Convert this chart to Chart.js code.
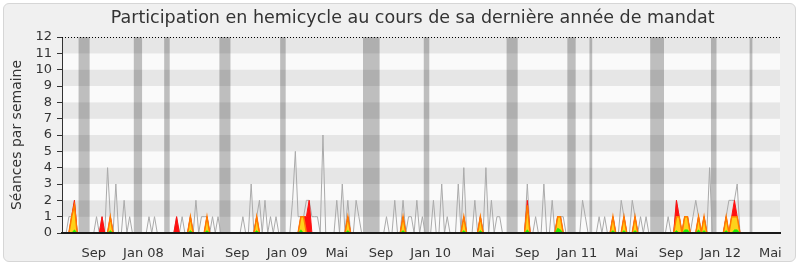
<!DOCTYPE html>
<html lang="fr">
<head>
<meta charset="utf-8">
<title>Participation en hemicycle</title>
<script src="https://cdn.jsdelivr.net/npm/chart.js@4.4.1/dist/chart.umd.min.js"></script>
<style>
  html, body { margin: 0; padding: 0; background: #fff; }
  #cadre {
    position: absolute; left: 3px; top: 3px; width: 791px; height: 257px;
    background: #f0f0f0; border: 1px solid #d6d6d6; border-radius: 6px;
  }
  #chart { position: absolute; left: 0; top: 0; }
</style>
</head>
<body>
<div id="cadre"></div>
<canvas id="chart" width="800" height="267"></canvas>
<script>
  // Semaines de juin 2007 à juin 2012, une colonne par semaine
  const NB_SEMAINES = 260;

  // [semaine, valeur] : valeurs non nulles
  const seances = [
    [2, 1], [3, 1], [4, 2],
    [12, 1], [14, 1], [16, 4], [17, 1], [19, 3], [22, 2], [24, 1],
    [31, 1], [33, 1],
    [41, 1], [43, 1], [46, 1], [48, 2], [50, 1], [51, 1], [52, 1], [54, 1], [56, 1],
    [65, 1], [68, 3], [70, 1], [71, 2], [73, 2], [75, 1], [77, 1],
    [83, 2], [84, 5], [85, 1], [86, 1], [87, 1], [88, 2], [89, 2], [90, 1], [91, 1], [92, 1], [94, 6],
    [99, 2], [101, 3], [103, 2], [106, 2], [107, 1],
    [117, 1], [120, 2], [123, 2], [125, 1], [126, 1], [128, 2], [130, 1],
    [134, 2], [137, 3], [139, 1], [143, 3], [145, 4], [149, 2], [151, 1], [153, 4], [155, 2], [157, 1], [158, 1],
    [168, 3], [171, 1], [174, 3], [177, 2], [179, 1], [180, 1], [181, 1],
    [188, 2], [189, 1],
    [194, 1], [196, 1], [199, 1], [202, 2], [203, 1], [206, 2], [207, 1], [209, 1], [211, 1],
    [219, 1], [222, 2], [223, 1], [225, 1], [226, 1], [228, 1], [229, 2], [230, 1], [232, 1], [234, 4],
    [240, 1], [241, 2], [242, 2], [243, 2], [244, 3],
  ];

  const presences = [
    [3, 1], [4, 2], [14, 1], [17, 1], [41, 1], [46, 1], [52, 1], [70, 1],
    [86, 1], [87, 1], [88, 1], [89, 2], [103, 1], [123, 1], [145, 1], [151, 1],
    [168, 2], [179, 1], [180, 1], [199, 1], [203, 1], [207, 1],
    [222, 2], [223, 1], [225, 1], [226, 1], [230, 1], [232, 1],
    [240, 1], [242, 1], [243, 2], [244, 1],
  ];

  const interventions = [
    [3, 1], [4, 1.7], [17, 1], [46, 1], [52, 1], [70, 1], [86, 1], [87, 1],
    [103, 1], [123, 1], [145, 1], [151, 1], [168, 1.7], [179, 1], [180, 1],
    [199, 1], [203, 1], [207, 1], [222, 1], [223, 1], [225, 1], [226, 1],
    [230, 1], [232, 1], [240, 1], [242, 1], [243, 1], [244, 1],
  ];

  const questions = [
    [4, 0.2], [17, 0.15], [46, 0.15], [52, 0.15], [70, 0.15], [86, 0.2],
    [103, 0.15], [123, 0.15], [145, 0.15], [151, 0.15], [168, 0.2], [179, 0.3],
    [180, 0.2], [199, 0.15], [203, 0.15], [207, 0.15], [222, 0.15], [225, 0.2],
    [226, 0.2], [230, 0.2], [232, 0.15], [240, 0.15], [243, 0.2], [244, 0.2],
  ];

  // semaines sans séance (vacances parlementaires), [début, fin]
  const vacances = [
    [6, 9], [26, 28], [37, 38], [57, 60], [79, 80], [109, 114], [131, 132],
    [161, 164], [183, 185], [191, 191], [213, 217], [235, 236], [249, 249],
  ];

  const tickWeeks = [11, 29, 47, 63, 81, 99, 115, 133, 152, 168, 186, 204, 220, 238, 256];
  const tickLabels = ["Sep", "Jan 08", "Mai", "Sep", "Jan 09", "Mai", "Sep", "Jan 10",
    "Mai", "Sep", "Jan 11", "Mai", "Sep", "Jan 12", "Mai"];

  const Y_MAX = 12;

  function weekly(pairs) {
    const vals = new Map(pairs);
    const out = [];
    for (let k = 0; k < NB_SEMAINES; k++) out.push({ x: k, y: vals.get(k) || 0 });
    return out;
  }

  const vacPairs = [];
  vacances.forEach(([a, b]) => {
    for (let k = a; k <= b; k++) vacPairs.push([k, Y_MAX]);
  });

  function area(label, pairs, fillColor, lineColor, width, order) {
    return {
      label,
      data: weekly(pairs),
      backgroundColor: fillColor,
      borderColor: lineColor,
      borderWidth: width,
      fill: "origin",
      pointRadius: 0,
      tension: 0,
      order,
    };
  }

  /** Alternating horizontal bands behind the plot + dotted top line */
  const bandes = {
    id: "bandes",
    beforeDraw(chart) {
      const { ctx, chartArea: a, scales: { y } } = chart;
      ctx.save();
      for (let v = 0; v < Y_MAX; v++) {
        const top = y.getPixelForValue(v + 1);
        const bot = y.getPixelForValue(v);
        ctx.fillStyle = v % 2 ? "#e6e6e6" : "#fafafa";
        ctx.fillRect(a.left, top, a.right - a.left, bot - top);
      }
      ctx.restore();
    },
    afterDatasetsDraw(chart) {
      const { ctx, chartArea: a, scales: { y } } = chart;
      const yy = Math.round(y.getPixelForValue(Y_MAX)) + 0.5;
      ctx.save();
      ctx.strokeStyle = "#000";
      ctx.lineWidth = 1;
      ctx.setLineDash([1, 2]);
      ctx.beginPath();
      ctx.moveTo(a.left, yy);
      ctx.lineTo(a.right, yy);
      ctx.stroke();
      ctx.restore();
    },
  };

  Chart.defaults.font.family = "'DejaVu Sans', sans-serif";

  new Chart(document.getElementById("chart"), {
    type: "line",
    data: {
      datasets: [
        area("Questions", questions, "#22ee00", "#22ee00", 0.5, 1),
        area("Interventions", interventions, "#ffd21a", "#ff7a00", 1.5, 2),
        area("Présences", presences, "#ff1010", "#ff1010", 1, 3),
        {
          label: "Séances",
          data: weekly(seances),
          borderColor: "#aaaaaa",
          borderWidth: 1,
          fill: false,
          pointRadius: 0,
          tension: 0,
          order: 4,
        },
        {
          label: "Vacances",
          data: weekly(vacPairs),
          backgroundColor: "rgba(0,0,0,0.24)",
          borderWidth: 0,
          fill: "origin",
          stepped: "middle",
          pointRadius: 0,
          order: 5,
        },
      ],
    },
    options: {
      responsive: false,
      animation: false,
      layout: { padding: { left: 0, right: 20, top: 0, bottom: 0 } },
      plugins: {
        legend: { display: false },
        tooltip: { enabled: false },
        title: {
          display: true,
          // trailing spaces nudge the centred title slightly left, as in the original
          text: "Participation en hemicycle au cours de sa dernière année de mandat   ",
          fullSize: false,
          color: "#333",
          font: { size: 17.5, weight: "normal" },
          padding: { top: 8, bottom: 8 },
        },
      },
      scales: {
        x: {
          type: "linear",
          min: -0.5,
          max: NB_SEMAINES - 0.5,
          offset: false,
          grid: { display: false },
          border: { color: "#1a1a1a", width: 2, z: 1 },
          ticks: {
            autoSkip: false,
            maxRotation: 0,
            color: "#333",
            font: { size: 13 },
            padding: 5,
            callback: (v, i) => tickLabels[i],
          },
          afterBuildTicks: (s) => {
            s.ticks = tickWeeks.map((v) => ({ value: v }));
          },
          afterFit: (s) => {
            s.height = 34;
          },
        },
        y: {
          min: 0,
          max: Y_MAX,
          ticks: { stepSize: 1, autoSkip: false, color: "#333", padding: 5, font: { size: 13 } },
          grid: { drawOnChartArea: false, tickLength: 5, tickColor: "#333" },
          border: { color: "#333", width: 1 },
          title: {
            display: true,
            text: "Séances par semaine",
            color: "#333",
            font: { size: 14 },
            padding: { top: 9, bottom: 0 },
          },
          afterFit: (s) => {
            s.width = 62;
          },
        },
      },
    },
    plugins: [bandes],
  });
</script>
</body>
</html>
